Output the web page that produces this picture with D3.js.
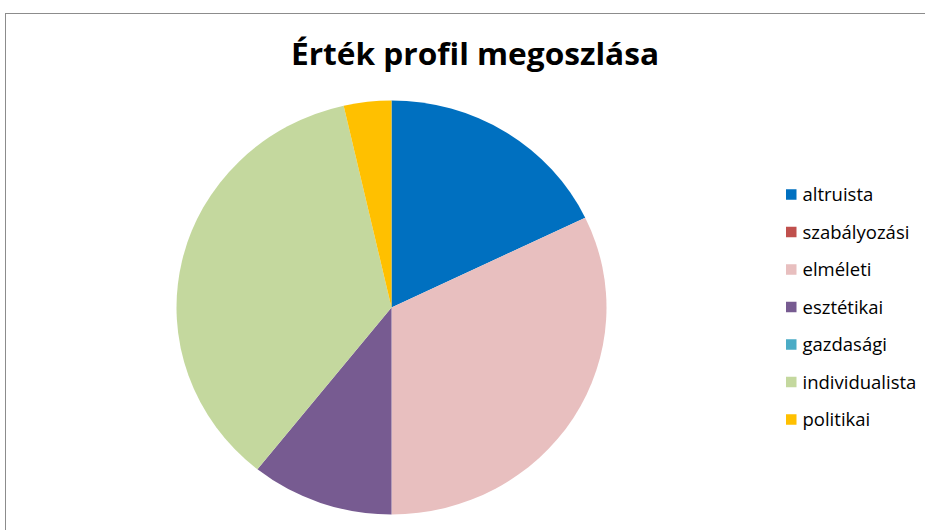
<!DOCTYPE html>
<html lang="hu">
<head>
    <meta charset="UTF-8">
    <title>Érték profil megoszlása</title>
    <script src="https://d3js.org/d3.v7.min.js"></script>
    <style>
        body { margin: 0; background: #fff; }
        svg { display: block; }
        text { font-family: 'Open Sans', 'Noto Sans', sans-serif; fill: #000; }
    </style>
</head>
<body>
    <div id="chart"></div>
    <script>
        // data
        var categories = ['altruista', 'szabályozási', 'elméleti', 'esztétikai', 'gazdasági', 'individualista', 'politikai'];
        var counts = [5, 0, 9, 3, 0, 10, 1];
        var colors = ['#0070c0', '#c0504d', '#e8bfbf', '#775b91', '#4bacc6', '#c4d89e', '#ffc000'];

        var width = 925, height = 530;

        var svg = d3.select('#chart').append('svg')
            .attr('width', width)
            .attr('height', height);

        // chart frame (runs off the right and bottom edge)
        svg.append('rect')
            .attr('x', 5.5)
            .attr('y', 13.5)
            .attr('width', 940)
            .attr('height', 540)
            .attr('fill', '#fff')
            .attr('stroke', '#8c8c8c')
            .attr('stroke-width', 1);

        // title
        svg.append('text')
            .attr('x', 475)
            .attr('y', 65)
            .attr('text-anchor', 'middle')
            .attr('textLength', 368)
            .attr('lengthAdjust', 'spacingAndGlyphs')
            .style('font-size', '30px')
            .style('font-weight', 'bold')
            .text('Érték profil megoszlása');

        var data = categories.map(function(c, i) { return { name: c, value: counts[i] }; });

        var color = d3.scaleOrdinal().domain(categories).range(colors);

        var radius = 215;
        var pie = d3.pie().sort(null).value(function(d) { return d.value; });
        var arc = d3.arc().innerRadius(0).outerRadius(radius);

        // the original pie is slightly squashed vertically
        var g = svg.append('g')
            .attr('transform', 'translate(391.5,307.5) scale(1,' + (207 / 215) + ')');

        g.selectAll('path')
            .data(pie(data).filter(function(d) { return d.data.value > 0; }))
            .enter().append('path')
            .attr('d', arc)
            .attr('fill', function(d) { return color(d.data.name); });

        // legend
        var legendY = d3.scalePoint().domain(categories).range([194.5, 419.5]);

        var legend = svg.append('g').selectAll('g')
            .data(categories)
            .enter().append('g')
            .attr('transform', function(d) { return 'translate(786,' + legendY(d) + ')'; });

        legend.append('rect')
            .attr('x', 0)
            .attr('y', -5.25)
            .attr('width', 10.5)
            .attr('height', 10.5)
            .attr('fill', function(d) { return color(d); });

        legend.append('text')
            .attr('x', 16.5)
            .attr('y', 6.5)
            .style('font-size', '18.5px')
            .text(function(d) { return d; });
    </script>
</body>
</html>
